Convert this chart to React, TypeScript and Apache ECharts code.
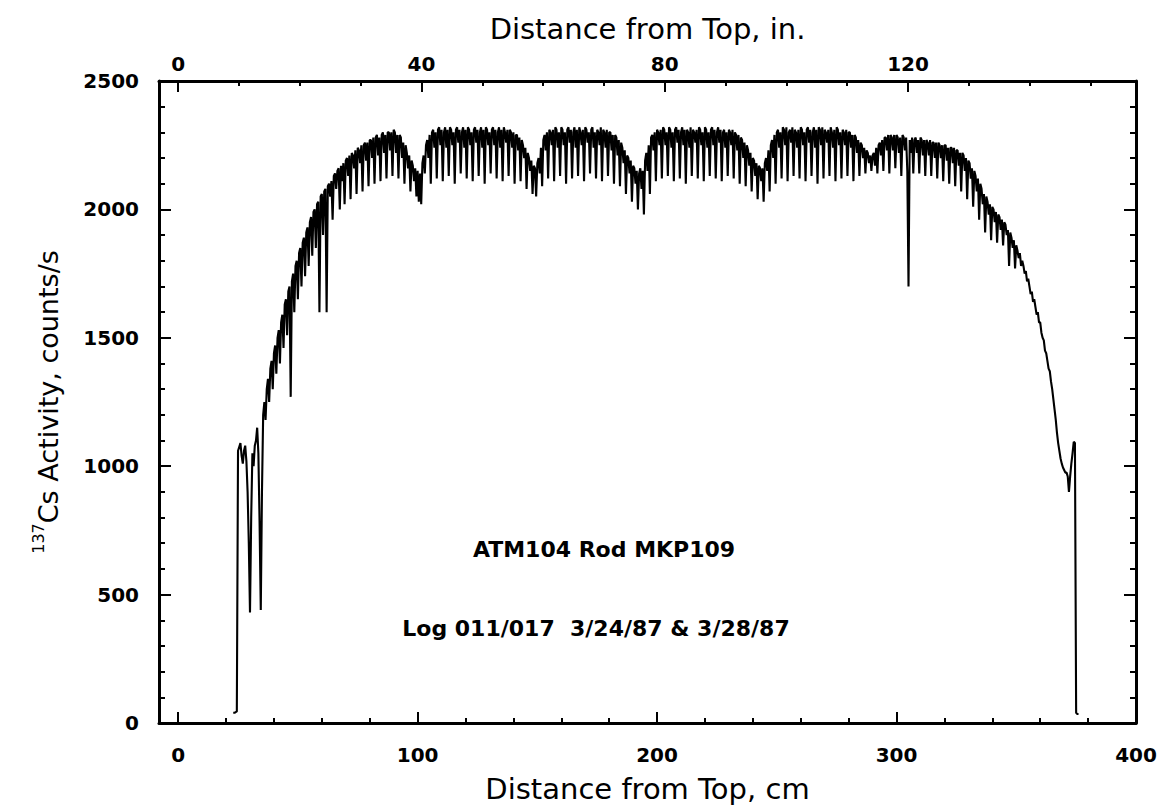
import React, { useEffect, useRef } from "react";
import * as echarts from "echarts";

// Gamma scan of rod: sampled every 0.5 cm starting at 23 cm from top
const scanStartCm = 23;
const scanStepCm = 0.5;
const activity = [
  40, 40, 42, 45, 1060, 1075, 1090, 1040, 1010, 1060,
  1080, 1020, 900, 700, 430, 800, 1050, 1000, 1080, 1100,
  1150, 1050, 780, 440, 900, 1200, 1250, 1180, 1300, 1340,
  1250, 1380, 1410, 1300, 1440, 1470, 1360, 1500, 1530, 1400,
  1560, 1590, 1460, 1630, 1650, 1510, 1680, 1700, 1270, 1720,
  1750, 1600, 1780, 1800, 1650, 1830, 1850, 1700, 1870, 1890,
  1740, 1910, 1930, 1780, 1950, 1970, 1820, 1990, 2000, 1850,
  2020, 2030, 1600, 2050, 2060, 1900, 2070, 2080, 1600, 2090,
  2100, 2050, 2110, 1960, 2130, 2140, 2080, 2150, 2160, 2000,
  2170, 2110, 2180, 2020, 2190, 2200, 2130, 2210, 2040, 2220,
  2210, 2160, 2230, 2060, 2240, 2230, 2180, 2250, 2070, 2250,
  2260, 2190, 2260, 2090, 2270, 2270, 2200, 2280, 2100, 2280,
  2290, 2210, 2280, 2110, 2290, 2300, 2220, 2290, 2120, 2300,
  2300, 2230, 2300, 2130, 2310, 2300, 2220, 2290, 2120, 2290,
  2280, 2200, 2260, 2100, 2250, 2220, 2160, 2210, 2070, 2190,
  2170, 2110, 2160, 2050, 2150, 2030, 2140, 2020, 2180, 2210,
  2140, 2250, 2270, 2200, 2290, 2100, 2300, 2310, 2240, 2300,
  2120, 2310, 2320, 2250, 2310, 2110, 2300, 2320, 2240, 2310,
  2130, 2320, 2310, 2250, 2300, 2100, 2310, 2320, 2260, 2310,
  2140, 2300, 2320, 2240, 2310, 2120, 2320, 2310, 2250, 2300,
  2110, 2310, 2320, 2260, 2310, 2130, 2300, 2320, 2240, 2310,
  2100, 2320, 2310, 2250, 2300, 2140, 2310, 2320, 2250, 2310,
  2120, 2300, 2320, 2240, 2310, 2110, 2320, 2300, 2260, 2310,
  2130, 2310, 2300, 2240, 2300, 2100, 2290, 2290, 2230, 2280,
  2110, 2270, 2250, 2200, 2240, 2080, 2220, 2200, 2150, 2190,
  2060, 2170, 2160, 2050, 2180, 2200, 2140, 2240, 2090, 2270,
  2290, 2230, 2300, 2120, 2310, 2300, 2250, 2310, 2110, 2320,
  2310, 2240, 2300, 2130, 2320, 2310, 2250, 2300, 2100, 2310,
  2320, 2260, 2310, 2120, 2300, 2320, 2240, 2310, 2130, 2320,
  2300, 2250, 2310, 2110, 2320, 2310, 2260, 2300, 2140, 2310,
  2320, 2240, 2300, 2120, 2310, 2300, 2250, 2320, 2110, 2310,
  2300, 2240, 2310, 2130, 2300, 2300, 2230, 2290, 2100, 2290,
  2280, 2210, 2270, 2090, 2260, 2240, 2180, 2230, 2060, 2210,
  2200, 2140, 2190, 2030, 2170, 2160, 2100, 2150, 2000, 2140,
  2160, 2080, 2150, 1980, 2190, 2220, 2150, 2250, 2060, 2280,
  2290, 2230, 2300, 2110, 2310, 2300, 2250, 2310, 2120, 2320,
  2310, 2250, 2300, 2130, 2320, 2310, 2240, 2300, 2110, 2310,
  2320, 2260, 2310, 2120, 2300, 2320, 2250, 2310, 2100, 2310,
  2300, 2240, 2320, 2130, 2310, 2300, 2260, 2310, 2120, 2320,
  2310, 2250, 2300, 2110, 2320, 2310, 2240, 2300, 2130, 2310,
  2320, 2250, 2310, 2120, 2300, 2320, 2260, 2310, 2110, 2300,
  2310, 2240, 2300, 2130, 2310, 2300, 2250, 2310, 2120, 2300,
  2290, 2230, 2290, 2100, 2280, 2270, 2200, 2260, 2090, 2250,
  2230, 2170, 2220, 2070, 2200, 2190, 2130, 2180, 2040, 2170,
  2160, 2110, 2160, 2030, 2180, 2200, 2150, 2230, 2070, 2250,
  2270, 2200, 2290, 2100, 2300, 2310, 2240, 2300, 2120, 2320,
  2310, 2250, 2320, 2110, 2300, 2310, 2260, 2320, 2130, 2310,
  2300, 2240, 2310, 2120, 2320, 2310, 2250, 2300, 2110, 2310,
  2320, 2260, 2310, 2130, 2300, 2320, 2240, 2310, 2100, 2320,
  2310, 2250, 2320, 2120, 2310, 2300, 2260, 2310, 2130, 2320,
  2300, 2240, 2310, 2110, 2320, 2310, 2250, 2300, 2120, 2310,
  2300, 2250, 2310, 2130, 2300, 2300, 2240, 2290, 2110, 2290,
  2280, 2220, 2270, 2130, 2260, 2250, 2200, 2240, 2140, 2230,
  2220, 2180, 2210, 2150, 2210, 2220, 2170, 2240, 2140, 2250,
  2260, 2210, 2270, 2150, 2280, 2280, 2230, 2290, 2140, 2290,
  2280, 2230, 2290, 2160, 2290, 2280, 2220, 2280, 2130, 2290,
  2280, 2230, 2280, 2150, 1700, 2270, 2220, 2280, 2140, 2270,
  2280, 2220, 2270, 2140, 2280, 2270, 2210, 2270, 2130, 2270,
  2260, 2210, 2270, 2130, 2260, 2260, 2200, 2260, 2120, 2260,
  2250, 2200, 2250, 2110, 2250, 2250, 2190, 2240, 2100, 2240,
  2240, 2180, 2240, 2090, 2230, 2230, 2170, 2220, 2070, 2220,
  2210, 2150, 2200, 2040, 2190, 2180, 2120, 2160, 2010, 2150,
  2130, 2070, 2120, 1960, 2100, 2080, 2020, 2060, 1910, 2050,
  2030, 1980, 2020, 1880, 2010, 2000, 1950, 1990, 1870, 1980,
  1970, 1920, 1960, 1860, 1950, 1940, 1900, 1920, 1780, 1910,
  1890, 1850, 1880, 1770, 1860, 1840, 1810, 1830, 1780, 1800,
  1780, 1750, 1760, 1720, 1730, 1700, 1670, 1680, 1640, 1650,
  1620, 1590, 1600, 1560, 1560, 1520, 1500, 1490, 1450, 1440,
  1410, 1380, 1370, 1330, 1300, 1260, 1220, 1180, 1130, 1090,
  1060, 1030, 1010, 995, 985, 975, 975, 960, 900, 960,
  1010, 1050, 1095, 1090, 40, 35, 35,
];

const cmAxisMin = -8;
const cmAxisMax = 400;
const cmPerInch = 2.54;
const cmLabelTicks = [0, 100, 200, 300, 400];
const cmMinorTicks = [0, 20, 40, 60, 80, 100, 120, 140, 160, 180, 200, 220, 240, 260, 280, 300, 320, 340, 360, 380, 400];
const inchLabelTicks = [0, 40, 80, 120];
const inchMinorTicks = [0, 10, 20, 30, 40, 50, 60, 70, 80, 90, 100, 110, 120, 130, 140, 150];
const yMin = 0;
const yMax = 2500;
const yLabelInterval = 500;

const bottomTitle = "Distance from Top, cm";
const topTitle = "Distance from Top, in.";
const yTitle = "{sup|137}{main|Cs Activity, counts/s}";
const annotationLines = ["ATM104 Rod MKP109", "Log 011/017  3/24/87 & 3/28/87"];

const TITLE_FONT = "DejaVu Sans";
const TICK_FONT = "DejaVu Sans";
const INK = "#000";

export default function App() {
  const ref = useRef<HTMLDivElement>(null);

  useEffect(() => {
    if (!ref.current) return;
    const chart = echarts.init(ref.current, undefined, { renderer: "svg" });

    const seriesData = activity.map((v, i) => [scanStartCm + i * scanStepCm, v]);

    const labelStyle = {
      color: INK,
      fontFamily: TICK_FONT,
      fontWeight: "bold" as const,
      fontSize: 20,
    };
    const lineStyle = { color: INK, width: 3 };
    const tickLine = { color: INK, width: 2 };
    const titleStyle = { color: INK, fontFamily: TITLE_FONT, fontSize: 29 };

    const option: any = {
      animation: false,
      backgroundColor: "#fff",
      grid: { left: 159, top: 81, width: 977, height: 642, show: false },
      xAxis: [
        {
          type: "value",
          position: "bottom",
          min: cmAxisMin,
          max: cmAxisMax,
          axisLine: { show: true, onZero: false, lineStyle },
          axisTick: { show: true, inside: true, length: 11, lineStyle: tickLine, customValues: cmLabelTicks },
          axisLabel: { ...labelStyle, margin: 22, customValues: cmLabelTicks },
          splitLine: { show: false },
          name: bottomTitle,
          nameLocation: "middle",
          nameGap: 51,
          nameTextStyle: titleStyle,
        },
        {
          type: "value",
          position: "bottom",
          min: cmAxisMin,
          max: cmAxisMax,
          axisLine: { show: false, onZero: false },
          axisTick: { show: true, inside: true, length: 5, lineStyle: tickLine, customValues: cmMinorTicks },
          axisLabel: { show: false },
          splitLine: { show: false },
        },
        {
          type: "value",
          position: "top",
          min: cmAxisMin / cmPerInch,
          max: cmAxisMax / cmPerInch,
          axisLine: { show: true, onZero: false, lineStyle },
          axisTick: { show: true, inside: true, length: 11, lineStyle: tickLine, customValues: inchLabelTicks },
          axisLabel: { ...labelStyle, margin: 7, customValues: inchLabelTicks },
          splitLine: { show: false },
          name: topTitle,
          nameLocation: "middle",
          nameGap: 38,
          nameTextStyle: titleStyle,
        },
        {
          type: "value",
          position: "top",
          min: cmAxisMin / cmPerInch,
          max: cmAxisMax / cmPerInch,
          axisLine: { show: false, onZero: false },
          axisTick: { show: true, inside: true, length: 5, lineStyle: tickLine, customValues: inchMinorTicks },
          axisLabel: { show: false },
          splitLine: { show: false },
        },
      ],
      yAxis: [
        {
          type: "value",
          position: "left",
          min: yMin,
          max: yMax,
          interval: yLabelInterval,
          axisLine: { show: true, onZero: false, lineStyle },
          axisTick: { show: true, inside: true, length: 12, lineStyle: tickLine },
          minorTick: { show: true, splitNumber: 5, length: 6, lineStyle: tickLine },
          axisLabel: { ...labelStyle, margin: 20, formatter: (v: number) => String(v) },
          splitLine: { show: false },
          name: yTitle,
          nameLocation: "middle",
          nameGap: 97,
          nameRotate: 90,
          nameTextStyle: {
            color: INK,
            fontFamily: TITLE_FONT,
            rich: {
              sup: { fontSize: 16, fontFamily: TITLE_FONT, color: INK, verticalAlign: "top", lineHeight: 32 },
              main: { fontSize: 27, fontFamily: TITLE_FONT, color: INK, verticalAlign: "bottom", lineHeight: 32 },
            },
          },
        },
        {
          type: "value",
          position: "right",
          min: yMin,
          max: yMax,
          interval: yLabelInterval,
          axisLine: { show: true, onZero: false, lineStyle },
          axisTick: { show: true, inside: true, length: 12, lineStyle: tickLine },
          minorTick: { show: true, splitNumber: 5, length: 6, lineStyle: tickLine },
          axisLabel: { show: false },
          splitLine: { show: false },
        },
      ],
      series: [
        {
          type: "line",
          xAxisIndex: 0,
          yAxisIndex: 0,
          data: seriesData,
          showSymbol: false,
          symbol: "none",
          lineStyle: { color: INK, width: 2.1 },
          z: 1,
        },
      ],
      graphic: [
        {
          type: "text",
          x: 604,
          y: 549,
          style: {
            text: annotationLines[0],
            fontFamily: TITLE_FONT,
            fontWeight: "bold",
            fontSize: 22,
            fill: INK,
            align: "center",
            verticalAlign: "middle",
          },
        },
        {
          type: "text",
          x: 596,
          y: 628,
          style: {
            text: annotationLines[1],
            fontFamily: TITLE_FONT,
            fontWeight: "bold",
            fontSize: 22,
            fill: INK,
            align: "center",
            verticalAlign: "middle",
          },
        },
      ],
    };

    chart.setOption(option);
    return () => chart.dispose();
  }, []);

  return (
    <div
      ref={ref}
      style={{ position: "fixed", left: 0, top: 0, width: 1161, height: 809, background: "#fff" }}
    />
  );
}
